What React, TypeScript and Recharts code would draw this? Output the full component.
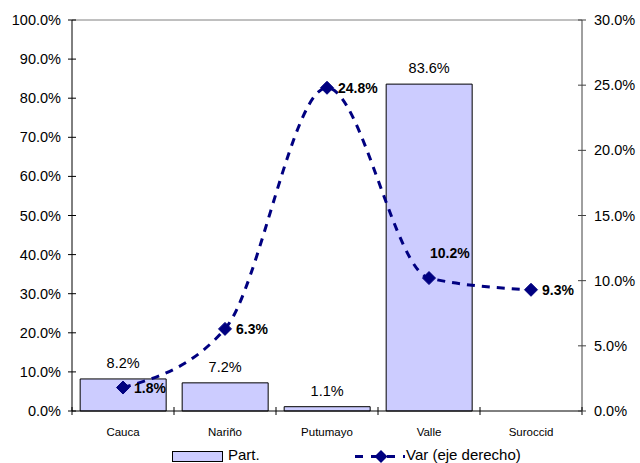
import React from "react";
import {
  Bar,
  ComposedChart,
  LabelList,
  Legend,
  Line,
  ReferenceLine,
  XAxis,
  YAxis,
} from "recharts";

const categories = ["Cauca", "Nariño", "Putumayo", "Valle", "Suroccid"];
const partValues = [8.2, 7.2, 1.1, 83.6, null];
const varValues = [1.8, 6.3, 24.8, 10.2, 9.3];
const leftTicks = [0, 10, 20, 30, 40, 50, 60, 70, 80, 90, 100];
const rightTicks = [0, 5, 10, 15, 20, 25, 30];

const data = categories.map((name, i) => ({
  name,
  part: partValues[i],
  var: varValues[i],
}));

const W = 640;
const H = 463;
const LEFT_W = 72;
const RIGHT_W = 58;
const BAND = (W - LEFT_W - RIGHT_W) / categories.length;
const FONT = "'Liberation Sans', Arial, sans-serif";
const NAVY = "#000080";

const LeftTick = (props: any) => {
  const { x, y, payload } = props;
  return (
    <g>
      <line x1={x - 4} x2={x + 4} y1={y} y2={y} stroke="#000" />
      <text x={x - 11} y={y + 5} textAnchor="end" fontSize={14.5} fontFamily={FONT} fill="#000">
        {payload.value.toFixed(1)}%
      </text>
    </g>
  );
};

const RightTick = (props: any) => {
  const { x, y, payload } = props;
  return (
    <g>
      <line x1={x - 4} x2={x + 4} y1={y} y2={y} stroke="#404040" />
      <text x={x + 12} y={y + 5} textAnchor="start" fontSize={14.5} fontFamily={FONT} fill="#000">
        {payload.value.toFixed(1)}%
      </text>
    </g>
  );
};

const CatTick = (props: any) => {
  const { x, y, payload, index } = props;
  return (
    <g>
      <line x1={x - BAND / 2} x2={x - BAND / 2} y1={y - 4} y2={y + 4} stroke="#000" />
      {index === categories.length - 1 && (
        <line x1={x + BAND / 2} x2={x + BAND / 2} y1={y - 4} y2={y + 4} stroke="#000" />
      )}
      <text x={x} y={y + 25} textAnchor="middle" fontSize={11.5} fontFamily={FONT} fill="#000">
        {payload.value}
      </text>
    </g>
  );
};

const Diamond = (props: any) => {
  const { cx, cy } = props;
  if (cx == null || cy == null) return null;
  const s = 6.5;
  return (
    <polygon
      points={`${cx},${cy - s} ${cx + s},${cy} ${cx},${cy + s} ${cx - s},${cy}`}
      fill={NAVY}
      stroke={NAVY}
    />
  );
};

const VarLabel = (props: any) => {
  const { x, y, value, index } = props;
  // the Valle label sits above its marker in the original
  const above = index === 3;
  return (
    <text
      x={above ? x + 1 : x + 11}
      y={above ? y - 20 : y + 5}
      fontSize={14}
      fontWeight="bold"
      fontFamily={FONT}
      fill="#000"
    >
      {value.toFixed(1)}%
    </text>
  );
};

const PartLabel = (props: any) => {
  const { x, y, width, value } = props;
  if (value == null) return null;
  return (
    <text x={x + width / 2} y={y - 11} textAnchor="middle" fontSize={14.5} fontFamily={FONT} fill="#000">
      {value.toFixed(1)}%
    </text>
  );
};

const LegendBox = () => (
  <div style={{ width: W, height: 22, position: "relative" }}>
    <svg width={W} height={22} style={{ position: "absolute", left: 0, top: 0, overflow: "visible" }}>
      <rect x={172.5} y={10.5} width={50} height={10} fill="#CCCCFF" stroke="#000" />
      <text x={228} y={19} fontSize={15} fontFamily={FONT}>Part.</text>
      <line x1={355} x2={405} y1={15.5} y2={15.5} stroke={NAVY} strokeWidth={3} strokeDasharray="8 8" />
      <polygon points="381,9 387.5,15.5 381,22 374.5,15.5" fill={NAVY} />
      <text x={406} y={19} fontSize={15} fontFamily={FONT}>Var (eje derecho)</text>
    </svg>
  </div>
);

export default function App() {
  return (
    <div style={{ position: "absolute", left: 0, top: 0, width: W, height: H, background: "#fff", overflow: "hidden" }}>
      <ComposedChart
        width={W}
        height={H}
        data={data}
        margin={{ top: 20, right: 0, bottom: 0, left: 0 }}
        barCategoryGap="8%"
      >
        <XAxis
          dataKey="name"
          xAxisId="x"
          height={30}
          tickSize={0}
          tickMargin={0}
          tick={<CatTick />}
          tickLine={false}
          axisLine={{ stroke: "#000" }}
          interval={0}
        />
        <YAxis
          yAxisId="left"
          orientation="left"
          width={LEFT_W}
          domain={[0, 100]}
          ticks={leftTicks}
          tickSize={0}
          tickMargin={0}
          tick={<LeftTick />}
          tickLine={false}
          axisLine={{ stroke: "#000" }}
        />
        <YAxis
          yAxisId="right"
          orientation="right"
          width={RIGHT_W}
          domain={[0, 30]}
          ticks={rightTicks}
          tickSize={0}
          tickMargin={0}
          tick={<RightTick />}
          tickLine={false}
          axisLine={{ stroke: "#404040" }}
        />
        <ReferenceLine yAxisId="left" xAxisId="x" y={100} stroke="#808080" />
        <Bar
          dataKey="part"
          xAxisId="x"
          yAxisId="left"
          fill="#CCCCFF"
          stroke="#000"
          strokeWidth={1}
          isAnimationActive={false}
        >
          <LabelList dataKey="part" content={<PartLabel />} />
        </Bar>
        <Line
          dataKey="var"
          xAxisId="x"
          yAxisId="right"
          type="monotone"
          stroke={NAVY}
          strokeWidth={3}
          strokeDasharray="8 7"
          dot={<Diamond />}
          activeDot={false}
          isAnimationActive={false}
        >
          <LabelList dataKey="var" content={<VarLabel />} />
        </Line>
        <Legend verticalAlign="bottom" height={22} content={<LegendBox />} wrapperStyle={{ left: 0, bottom: 0 }} />
      </ComposedChart>
    </div>
  );
}
